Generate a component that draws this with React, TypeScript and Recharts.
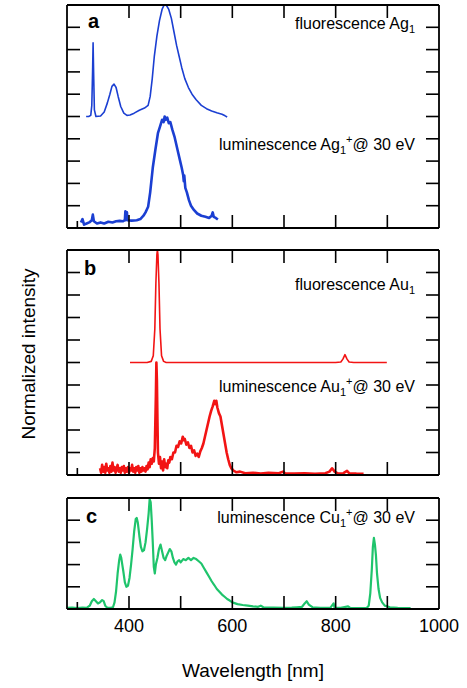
import { Line, LineChart, XAxis, YAxis } from 'recharts';

type Pt = [number, number];

// wavelength [nm], normalized intensity (panel units, 1 unit per tick)
const AG_FLUO: Pt[] = [
  [317, 5.0], [322, 5.0], [326, 5.05], [328, 5.5], [329.5, 7.0], [330.5, 8.3], [331.5, 7.0], [333, 5.3],
  [336, 5.0], [345, 5.02], [352, 5.2], [358, 5.6], [363, 6.0], [367, 6.35], [371, 6.45], [375, 6.3],
  [379, 5.9], [384, 5.45], [390, 5.15], [396, 5.05], [402, 5.07], [410, 5.15], [420, 5.28], [430, 5.38],
  [437, 5.5], [441, 5.9], [445, 6.7], [449, 7.7], [454, 8.6], [459, 9.3], [464, 9.8], [468, 10],
  [472, 10], [477, 9.8], [482, 9.4], [487, 8.8], [492, 8.2], [497, 7.7], [502, 7.2], [508, 6.7],
  [515, 6.3], [522, 6.0], [530, 5.75], [540, 5.5], [550, 5.35], [560, 5.25], [570, 5.17], [580, 5.1],
  [586, 5.03], [590, 4.98],
];

const AG_LUM: Pt[] = [
  [307, 0.25], [310, 0.4], [313, 0.15], [318, 0.2], [323, 0.25], [328, 0.35], [330, 0.6], [332, 0.3],
  [338, 0.2], [345, 0.25], [352, 0.2], [360, 0.28], [368, 0.25], [375, 0.3], [382, 0.32], [388, 0.3],
  [392, 0.35], [393, 0.75], [394, 0.35], [396, 0.7], [397, 0.35], [405, 0.33], [415, 0.35], [422, 0.4],
  [428, 0.55], [432, 0.7], [437, 0.95], [441, 1.6], [446, 2.7], [451, 3.5], [456, 4.25], [460, 4.55],
  [464, 4.85], [467, 4.75], [469, 5.0], [471, 4.85], [474, 4.95], [477, 4.7], [480, 4.75], [484, 4.4],
  [488, 4.1], [491, 3.8], [495, 3.4], [499, 3.0], [502, 2.7], [505, 2.35], [506, 2.1], [507, 2.35],
  [509, 1.8], [512, 1.6], [516, 1.25], [520, 1.0], [526, 0.8], [532, 0.65], [540, 0.55], [548, 0.5],
  [555, 0.45], [560, 0.55], [562, 0.7], [564, 0.5], [568, 0.45], [572, 0.38],
];

const AU_FLUO: Pt[] = [
  [402, 5.0], [420, 5.0], [435, 5.0], [443, 5.05], [447, 5.3], [450, 6.5], [452, 8.5], [454, 9.8],
  [455, 10], [456, 9.8], [458, 8.5], [460, 6.5], [463, 5.3], [467, 5.05], [472, 5.0], [500, 5.0],
  [600, 5.0], [700, 5.0], [800, 5.0], [810, 5.02], [814, 5.15], [818, 5.35], [822, 5.15], [826, 5.02],
  [835, 5.0], [870, 5.0], [899, 5.0],
];

const AU_LUM: Pt[] = [
  [344, 0.3], [346, 0.1], [348, 0.45], [350, 0.15], [352, 0.35], [354, 0.1], [356, 0.5], [358, 0.2],
  [360, 0.3], [362, 0.1], [364, 0.4], [366, 0.15], [368, 0.55], [370, 0.2], [372, 0.35], [374, 0.1],
  [376, 0.3], [378, 0.45], [380, 0.15], [382, 0.3], [384, 0.1], [386, 0.35], [388, 0.2], [390, 0.4],
  [392, 0.1], [394, 0.3], [396, 0.15], [398, 0.35], [400, 0.1], [402, 0.3], [404, 0.2], [406, 0.45],
  [408, 0.15], [410, 0.3], [412, 0.1], [414, 0.35], [416, 0.2], [418, 0.4], [420, 0.1], [422, 0.3],
  [424, 0.15], [426, 0.35], [428, 0.2], [430, 0.3], [432, 0.15], [434, 0.4], [436, 0.25], [438, 0.55],
  [440, 0.35], [442, 0.7], [444, 0.5], [446, 0.75], [448, 0.6], [450, 1.2], [452, 3.5], [453, 5.0],
  [454, 4.2], [455, 2.5], [456, 1.0], [458, 0.5], [460, 0.8], [462, 0.3], [464, 0.6], [466, 0.2],
  [468, 0.7], [470, 0.35], [472, 0.5], [474, 0.3], [476, 0.65], [478, 0.55], [480, 0.8], [483, 0.7],
  [486, 1.0], [489, 1.0], [492, 1.3], [495, 1.25], [498, 1.5], [501, 1.4], [504, 1.7], [506, 1.55],
  [508, 1.6], [511, 1.35], [514, 1.45], [517, 1.2], [520, 1.3], [523, 1.0], [526, 1.1], [529, 0.85],
  [532, 0.95], [535, 0.8], [538, 1.05], [541, 1.2], [544, 1.4], [547, 1.7], [550, 2.0], [553, 2.3],
  [556, 2.6], [559, 2.85], [562, 3.05], [565, 3.3], [567, 3.15], [569, 3.3], [571, 3.0], [574, 2.75],
  [577, 2.6], [580, 2.2], [583, 1.8], [586, 1.4], [589, 1.0], [592, 0.7], [595, 0.45], [598, 0.3],
  [602, 0.2], [608, 0.12], [615, 0.15], [625, 0.08], [640, 0.1], [655, 0.06], [670, 0.1], [690, 0.08],
  [698, 0.15], [702, 0.08], [720, 0.06], [740, 0.08], [760, 0.05], [780, 0.08], [788, 0.15], [793, 0.3],
  [798, 0.15], [805, 0.06], [815, 0.08], [822, 0.18], [826, 0.08], [840, 0.06], [854, 0.05],
];

const CU_LUM: Pt[] = [
  [280, 0.05], [290, 0.06], [300, 0.04], [310, 0.06], [318, 0.05], [324, 0.15], [328, 0.35], [332, 0.45],
  [336, 0.35], [340, 0.25], [344, 0.3], [348, 0.4], [351, 0.35], [354, 0.15], [358, 0.06], [364, 0.05],
  [369, 0.08], [372, 0.3], [375, 0.8], [378, 1.6], [381, 2.2], [383, 2.45], [385, 2.3], [387, 2.0],
  [389, 1.7], [392, 1.2], [395, 1.0], [398, 1.05], [401, 1.4], [404, 2.0], [407, 2.7], [410, 3.5],
  [413, 4.05], [415, 4.1], [417, 3.9], [420, 3.3], [423, 2.8], [426, 2.6], [429, 2.65], [432, 3.0],
  [435, 3.6], [438, 4.3], [440, 4.95], [442, 4.8], [444, 4.0], [446, 3.0], [448, 1.9], [450, 1.6],
  [452, 2.0], [455, 2.3], [458, 2.7], [461, 2.9], [464, 2.6], [467, 2.3], [470, 2.2], [473, 2.4],
  [476, 2.55], [479, 2.7], [482, 2.6], [485, 2.3], [488, 2.1], [491, 2.0], [494, 2.15], [497, 2.2],
  [500, 2.1], [505, 2.25], [510, 2.2], [515, 2.3], [520, 2.2], [525, 2.3], [530, 2.25], [535, 2.15],
  [540, 2.05], [545, 1.85], [550, 1.65], [555, 1.45], [560, 1.25], [565, 1.08], [570, 0.9], [575, 0.78],
  [580, 0.65], [585, 0.55], [590, 0.45], [595, 0.38], [600, 0.3], [610, 0.22], [620, 0.18], [630, 0.15],
  [640, 0.12], [650, 0.1], [655, 0.15], [660, 0.08], [680, 0.06], [700, 0.05], [715, 0.06], [725, 0.08],
  [735, 0.1], [740, 0.25], [744, 0.35], [748, 0.2], [755, 0.08], [770, 0.05], [790, 0.06], [796, 0.25],
  [798, 0.05], [810, 0.05], [824, 0.12], [828, 0.05], [845, 0.04], [860, 0.05], [864, 0.15], [867, 0.7],
  [870, 1.8], [872, 2.8], [874, 3.2], [876, 2.9], [878, 2.4], [880, 1.6], [883, 0.9], [886, 0.5],
  [890, 0.3], [895, 0.15], [905, 0.08], [920, 0.05], [945, 0.04],
];

const X_DOMAIN: [number, number] = [280, 1000];
const X_TICKS = [400, 500, 600, 700, 800, 900, 1000];
const X_MARKS = [400, 500, 600, 700, 800, 900];
const X_LABELS = [400, 600, 800, 1000];
const Y_TICKS_TALL = [1, 2, 3, 4, 5, 6, 7, 8, 9];
const Y_TICKS_SHORT = [1, 2, 3, 4];

const BLUE = '#1b3fd2';
const RED = '#f21414';
const GREEN = '#1fc46c';
const FONT = 'Arial, "Liberation Sans", Helvetica, sans-serif';

// plot box (shared by the three panels): left/right edges and each panel's top/bottom
const PLOT_L = 67;
const PLOT_R = 439;
const PANEL_BOXES = [
  { top: 5, bottom: 228 },
  { top: 250, bottom: 475 },
  { top: 498, bottom: 609 },
];

const toRows = (pts: Pt[]) => pts.map(([w, v]) => ({ w, v }));
const xPx = (t: number) => PLOT_L + ((t - X_DOMAIN[0]) / (X_DOMAIN[1] - X_DOMAIN[0])) * (PLOT_R - PLOT_L);

interface SeriesDef {
  key: string;
  points: Pt[];
  color: string;
  width: number;
}

interface PanelProps {
  top: number;
  height: number;
  marginTop: number;
  marginBottom: number;
  bottomAxisHeight: number;
  yMax: number;
  yTicks: number[];
  showLabels?: boolean;
  series: SeriesDef[];
}

const axisLine = { stroke: '#000', strokeWidth: 1.8 };
const tickLine = { stroke: '#000', strokeWidth: 1.6 };
const blank = () => '';

function Panel({ top, height, marginTop, marginBottom, bottomAxisHeight, yMax, yTicks, showLabels, series }: PanelProps) {
  return (
    <div style={{ position: 'absolute', left: 0, top, width: 467, height }}>
      <LineChart width={467} height={height} margin={{ top: marginTop, right: 18, bottom: marginBottom, left: 57 }}>
        <XAxis
          xAxisId="bottom"
          dataKey="w"
          type="number"
          domain={X_DOMAIN}
          allowDataOverflow
          ticks={X_TICKS}
          height={bottomAxisHeight}
          axisLine={axisLine}
          tickLine={false}
          tickMargin={4}
          tick={{ fill: '#000', fontSize: 18, fontFamily: FONT }}
          tickFormatter={(v: number) => (showLabels && X_LABELS.includes(v) ? String(v) : '')}
          interval={0}
        />
        <XAxis
          xAxisId="top"
          orientation="top"
          dataKey="w"
          type="number"
          domain={X_DOMAIN}
          allowDataOverflow
          ticks={X_TICKS}
          height={5}
          axisLine={axisLine}
          tickLine={false}
          tickFormatter={blank}
          interval={0}
        />
        <YAxis
          yAxisId="left"
          type="number"
          domain={[0, yMax]}
          allowDataOverflow
          ticks={yTicks}
          width={10}
          axisLine={axisLine}
          tickLine={tickLine}
          tickSize={-13}
          tickFormatter={blank}
          interval={0}
        />
        <YAxis
          yAxisId="right"
          orientation="right"
          type="number"
          domain={[0, yMax]}
          allowDataOverflow
          ticks={yTicks}
          width={10}
          axisLine={axisLine}
          tickLine={tickLine}
          tickSize={-13}
          tickFormatter={blank}
          interval={0}
        />
        {series.map((s) => (
          <Line
            key={s.key}
            xAxisId="bottom"
            yAxisId="left"
            data={toRows(s.points)}
            dataKey="v"
            type="linear"
            stroke={s.color}
            strokeWidth={s.width}
            strokeLinejoin="round"
            dot={false}
            activeDot={false}
            isAnimationActive={false}
          />
        ))}
      </LineChart>
    </div>
  );
}

function Label({ x, y, name, sym, ion }: { x: number; y: number; name: string; sym: string; ion?: boolean }) {
  return (
    <text x={x} y={y} textAnchor="end" fontSize={16} fontFamily={FONT} fill="#000">
      {name} {sym}
      <tspan fontSize={11} dy={4}>1</tspan>
      {ion ? (
        <>
          <tspan fontSize={11} dy={-11}>+</tspan>
          <tspan dy={7}>@ 30 eV</tspan>
        </>
      ) : null}
    </text>
  );
}

export default function App() {
  return (
    <div style={{ position: 'absolute', left: 0, top: 0, width: 467, height: 688, background: '#fff', fontFamily: FONT }}>
      <Panel
        top={0}
        height={240}
        marginTop={0}
        marginBottom={0}
        bottomAxisHeight={12}
        yMax={10}
        yTicks={Y_TICKS_TALL}
        series={[
          { key: 'agFluo', points: AG_FLUO, color: BLUE, width: 1.6 },
          { key: 'agLum', points: AG_LUM, color: BLUE, width: 2.6 },
        ]}
      />
      <Panel
        top={240}
        height={250}
        marginTop={5}
        marginBottom={3}
        bottomAxisHeight={12}
        yMax={10}
        yTicks={Y_TICKS_TALL}
        series={[
          { key: 'auFluo', points: AU_FLUO, color: RED, width: 1.6 },
          { key: 'auLum', points: AU_LUM, color: RED, width: 2.6 },
        ]}
      />
      <Panel
        top={488}
        height={200}
        marginTop={5}
        marginBottom={39}
        bottomAxisHeight={40}
        yMax={5}
        yTicks={Y_TICKS_SHORT}
        showLabels
        series={[{ key: 'cuLum', points: CU_LUM, color: GREEN, width: 2.2 }]}
      />
      <svg width={467} height={688} style={{ position: 'absolute', left: 0, top: 0, pointerEvents: 'none' }}>
        {/* inward x tick marks on top and bottom frame edges */}
        {PANEL_BOXES.map((b, i) => (
          <g key={i} stroke="#000" strokeWidth={1.6}>
            {X_MARKS.map((t) => (
              <line key={`t${t}`} x1={xPx(t)} x2={xPx(t)} y1={b.top} y2={b.top + 13} />
            ))}
            {X_MARKS.map((t) => (
              <line key={`b${t}`} x1={xPx(t)} x2={xPx(t)} y1={b.bottom} y2={b.bottom - 13} />
            ))}
            <line x1={xPx(300)} x2={xPx(300)} y1={b.bottom} y2={b.bottom - 7} />
          </g>
        ))}
        <text x={88} y={28} fontSize={20} fontWeight="bold" fontFamily={FONT}>a</text>
        <text x={84} y={275} fontSize={20} fontWeight="bold" fontFamily={FONT}>b</text>
        <text x={86} y={523} fontSize={20} fontWeight="bold" fontFamily={FONT}>c</text>
        <Label x={415} y={28.5} name="fluorescence" sym="Ag" />
        <Label x={415} y={150} name="luminescence" sym="Ag" ion />
        <Label x={415} y={290} name="fluorescence" sym="Au" />
        <Label x={415} y={391.5} name="luminescence" sym="Au" ion />
        <Label x={415} y={523} name="luminescence" sym="Cu" ion />
        <text
          x={0}
          y={0}
          transform="translate(35 354) rotate(-90)"
          textAnchor="middle"
          fontSize={19}
          fontFamily={FONT}
        >
          Normalized intensity
        </text>
        <text x={253} y={677} textAnchor="middle" fontSize={19} fontFamily={FONT}>
          Wavelength [nm]
        </text>
      </svg>
    </div>
  );
}
